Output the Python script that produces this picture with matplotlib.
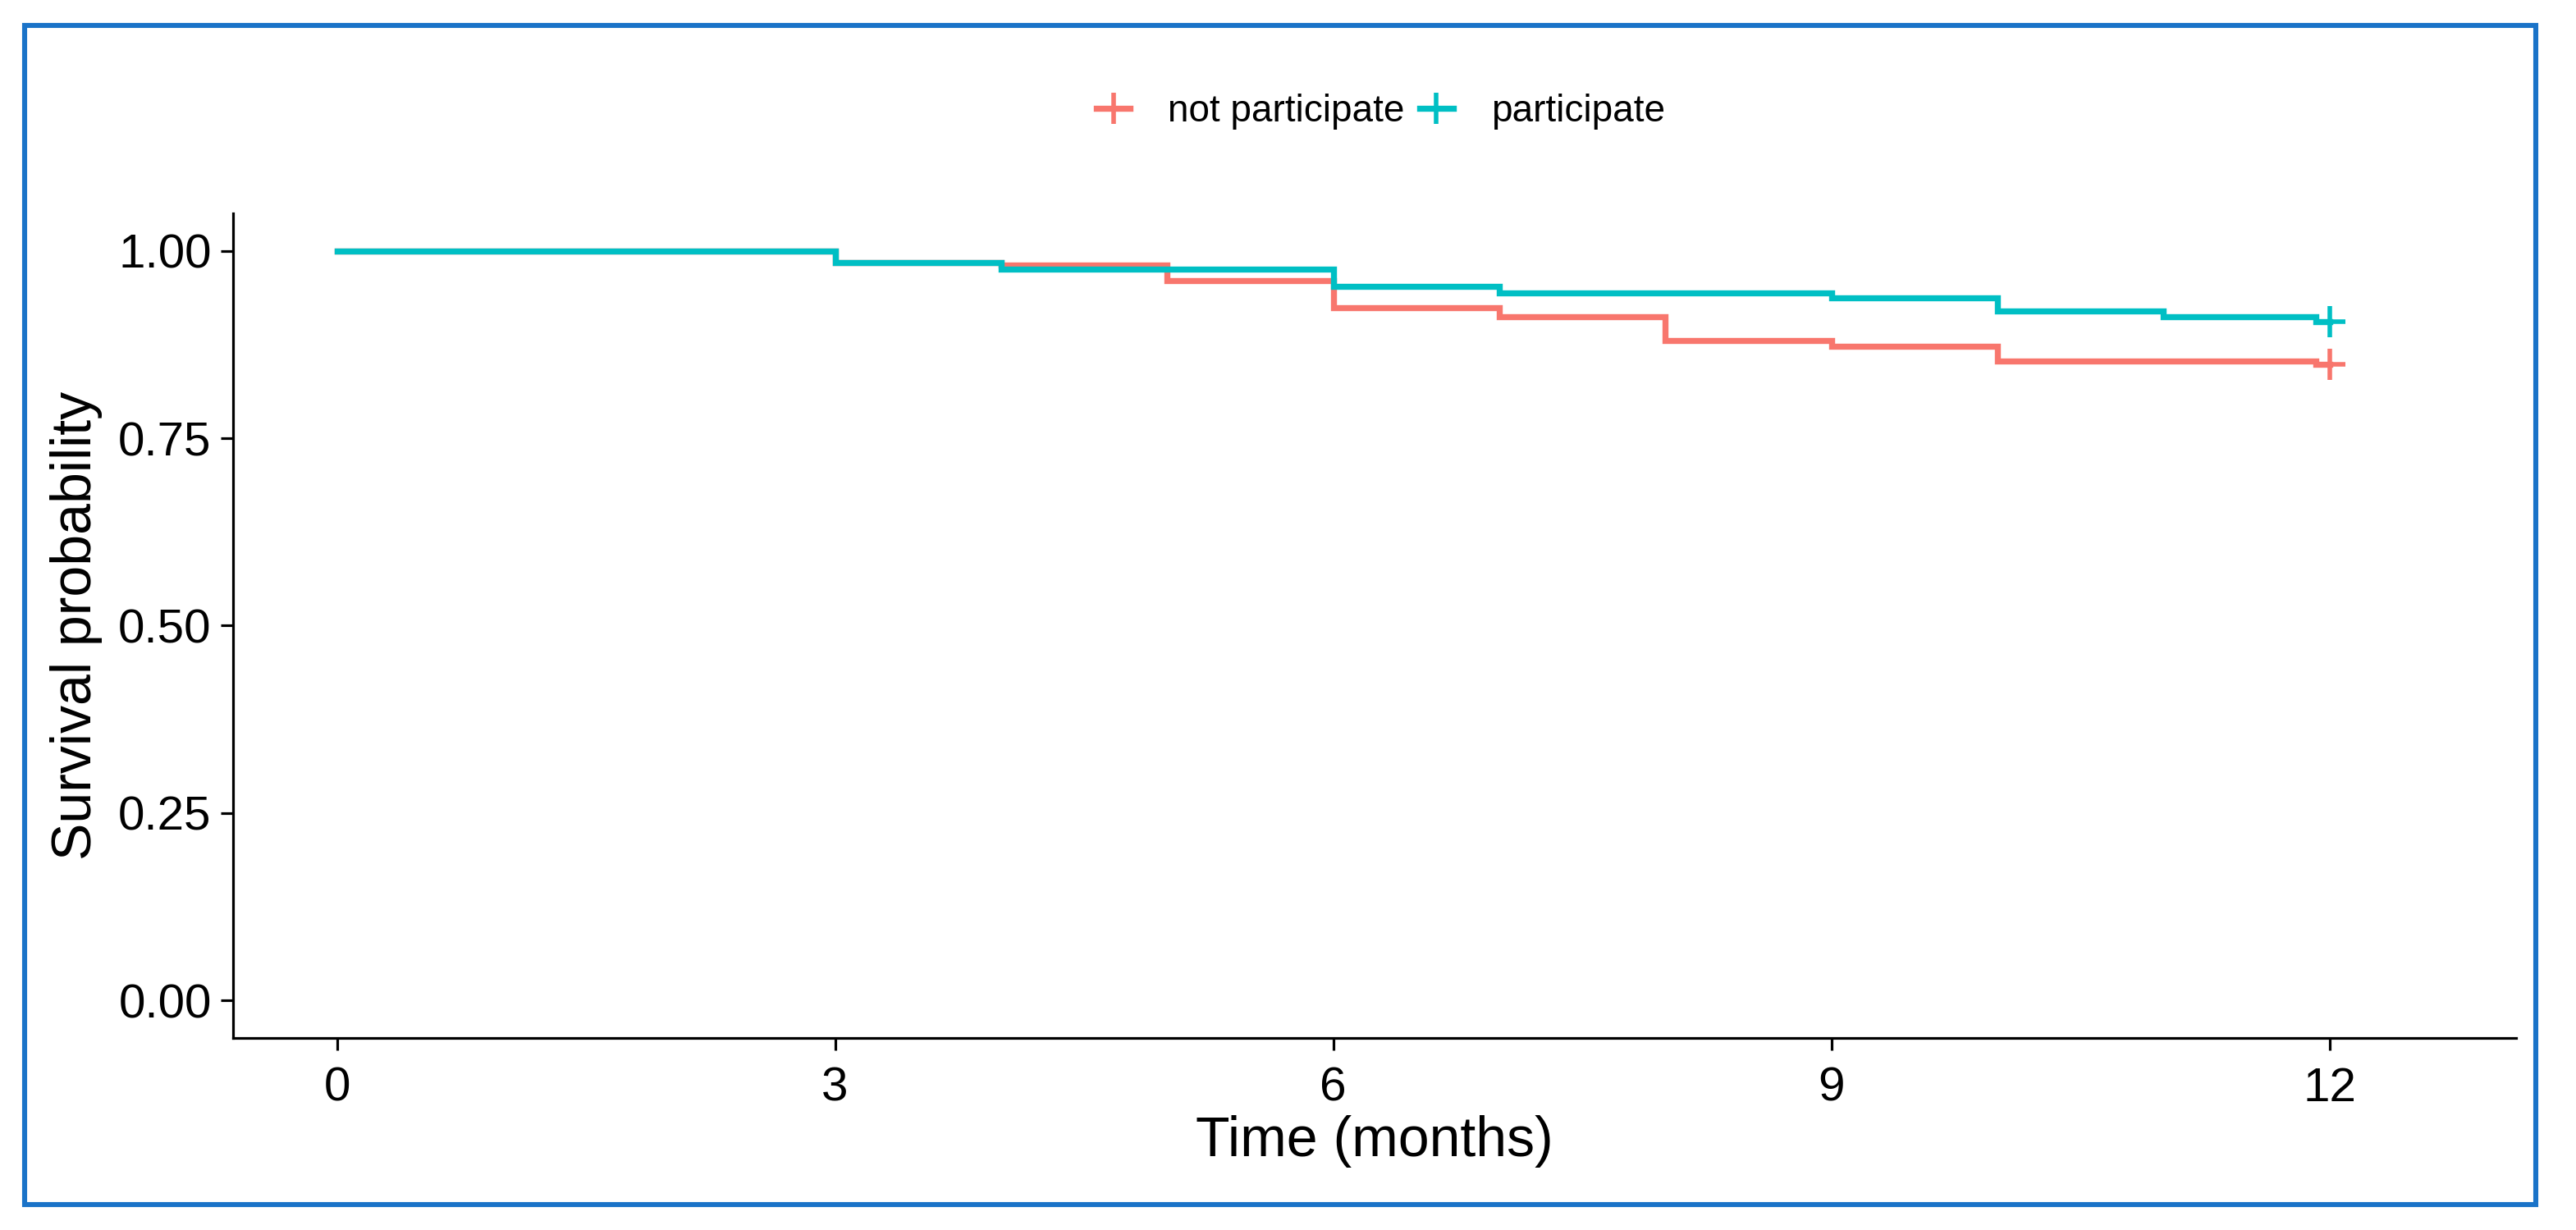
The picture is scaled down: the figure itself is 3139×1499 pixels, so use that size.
import matplotlib
matplotlib.use('Agg')
import matplotlib.pyplot as plt
from matplotlib.lines import Line2D
from matplotlib.patches import Rectangle

plt.rcParams['font.family'] = ['Liberation Sans', 'DejaVu Sans']

# === DATA ===
groups = ['not participate', 'participate']
colors = ['#F8766D', '#00BFC4']

time_not = [0, 3, 4, 5, 6, 7, 8, 9, 10, 11.92, 12]
surv_not = [1.0, 0.984, 0.981, 0.960, 0.924, 0.912, 0.880, 0.873, 0.853, 0.849, 0.849]

time_part = [0, 3, 4, 6, 7, 9, 10, 11, 11.92, 12]
surv_part = [1.0, 0.984, 0.976, 0.952, 0.944, 0.937, 0.920, 0.912, 0.905, 0.905]

x_ticks = [0, 3, 6, 9, 12]
y_ticks = [0.0, 0.25, 0.5, 0.75, 1.0]
y_tick_labels = ['0.00', '0.25', '0.50', '0.75', '1.00']

# === FIGURE ===
fig = plt.figure(figsize=(31.39, 14.99), dpi=100)
ax = fig.add_axes([0.0905, 0.1561, 0.9768 - 0.0905, 0.8266 - 0.1561])

series = [(time_not, surv_not), (time_part, surv_part)]
for (t, s), col in zip(series, colors):
    ax.step(t, s, where='post', color=col, linewidth=5.3, solid_joinstyle='miter')
    ax.plot([t[-1]], [s[-1]], marker='+', color=col, markersize=28, markeredgewidth=4)

ax.set_xlim(-0.625, 13.125)
ax.set_ylim(-0.05, 1.05)
ax.set_xticks(x_ticks)
ax.set_yticks(y_ticks)
ax.set_yticklabels(y_tick_labels)

for side in ['top', 'right']:
    ax.spines[side].set_visible(False)
for side in ['left', 'bottom']:
    ax.spines[side].set_linewidth(2.3)
ax.tick_params(axis='both', length=11, width=2.3, labelsize=42, pad=8)
ax.tick_params(axis='x', pad=14)

ax.set_xlabel('Time (months)', fontsize=49, labelpad=4)
ax.set_ylabel('Survival probability', fontsize=49, labelpad=14)

handles = [Line2D([0], [0], color=c, linewidth=5.3, marker='+', markersize=28,
                  markeredgewidth=4) for c in colors]
fig.legend(handles, groups, loc='center', bbox_to_anchor=(0.536, 0.909), ncol=2,
           frameon=False, fontsize=33, handlelength=0.9, handletextpad=1.0,
           columnspacing=0.4)

# blue frame round the whole picture
fig.patches.append(Rectangle((30 / 3139, 1 - 1467.5 / 1499), 3060 / 3139, 1436.5 / 1499,
                             transform=fig.transFigure, fill=False,
                             edgecolor='#1a73c8', linewidth=4.4))

fig.savefig('out.png', dpi=100)
